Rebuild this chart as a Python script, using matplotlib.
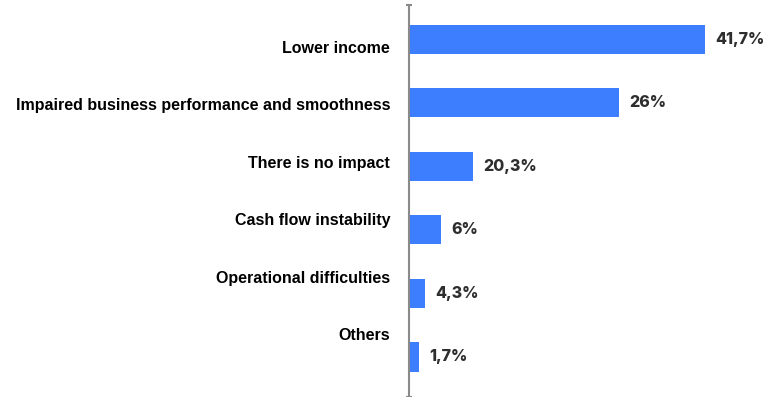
import matplotlib
matplotlib.use("Agg")
import matplotlib.pyplot as plt
import numpy as np

categories = ["Lower income", "Impaired business performance and smoothness",
              "There is no impact", "Cash flow instability",
              "Operational difficulties", "Others"]
value_labels = ["41,7%", "26%", "20,3%", "6%", "4,3%", "1,7%"]
# bar lengths as drawn in the picture (scaled so the first bar equals 41.7)
bar_lengths = [41.7, 29.6, 9.0, 4.5, 2.25, 1.4]

W, H = 776, 397
fig = plt.figure(figsize=(W / 100, H / 100), dpi=100)
ax_left = 409 / W
ax = fig.add_axes([ax_left, 0.0, 1 - ax_left, 1 - 5 / H])

n = len(categories)
pos = np.arange(n)
ax.barh(pos, bar_lengths, height=0.457, color="#3d7eff", zorder=2)

ax.set_xlim(0, 367 / 7.1)
ax.set_ylim(5.63, -0.543)

for y, v, t in zip(pos, bar_lengths, value_labels):
    ax.annotate(t, (v, y), xytext=(7.5, 0), textcoords="offset points",
                ha="left", va="center", fontsize=11.5, fontweight="heavy",
                color="#2e2e2e", family="Inter")

label_step = 57.5 / 63.5
label_offset = 7.2 / 63.5
ax.set_yticks(pos * label_step + label_offset)
ax.set_yticklabels(categories, fontsize=11.5, fontweight="bold",
                   family="Liberation Sans", color="#000000")
ax.tick_params(axis="y", length=0, pad=13.5)
ax.set_xticks([])

for s in ["top", "right", "bottom"]:
    ax.spines[s].set_visible(False)
ax.spines["left"].set_color("#8a8a8a")
ax.spines["left"].set_linewidth(1.5)
ax.plot([0, 0], [-0.543, 5.63], ls="none", marker="_", ms=5, mew=1.5,
        color="#8a8a8a", clip_on=False)

fig.savefig("out.png", dpi=100)
